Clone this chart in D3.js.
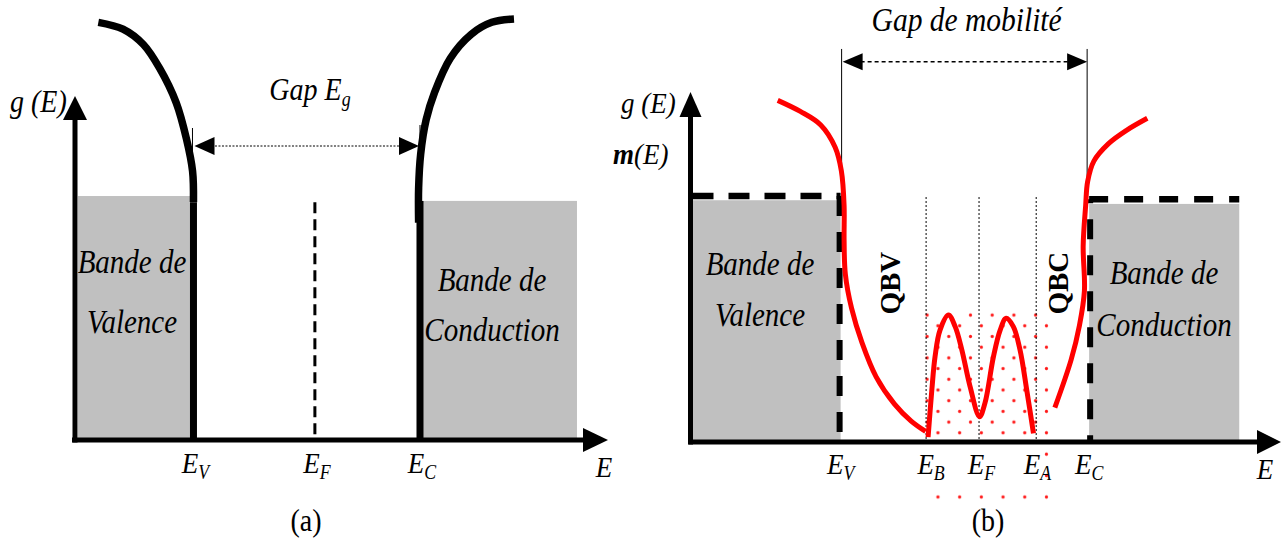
<!DOCTYPE html>
<html><head><meta charset="utf-8">
<script src="https://cdn.jsdelivr.net/npm/d3@7"></script>
<style>html,body{margin:0;padding:0;background:#fff}</style>
</head><body>
<script>
// ---------- DATA (energies in units of the gap: E_V = 0, E_C = 1 ; DOS in units of band-edge level) ----------
// Panel (a)
const aAxisE = [-0.523, 1.830];
const aAxisG = [0, 1.41];
const aBandE = [[-0.51, 0], [1, 1.693]];
const aBandG = [1.0, 0.98];
const aEdgeE = [0, 1];
const aEdgeTop = [0.975, 0.98];
const aValenceDOS = [[-0.420,1.712],[-0.311,1.684],[-0.221,1.621],[-0.149,1.523],[-0.076,1.382],[-0.031,1.234],[-0.004,1.102],[0.0,0.975]];
const aConductionDOS = [[1.415,1.726],[1.317,1.712],[1.226,1.663],[1.134,1.565],[1.064,1.424],[1.027,1.312],[1.003,1.172],[0.994,1.033],[0.994,0.891]];
const aFermiE = 0.536, aFermiTop = 0.975;
const aGapG = 1.205;
const aLevelE = [0, 0.536, 1];
const aLevelSub = ["V", "F", "C"];
const aBandText = [["Bande de","Valence"],["Bande de","Conduction"]];

// Panel (b)
const bAxisE = [-0.604, 1.772];
const bAxisG = [0, 1.423];
const bBandE = [[-0.596, 0], [1, 1.604]];
const bBandG = [0.983, 0.968];
const bEdgeG = [1.0, 0.987];
const bValenceTail = [[-0.253,1.389],[-0.162,1.344],[-0.080,1.289],[-0.022,1.198],[0.003,1.102],[0.014,0.961],[0.014,0.822],[0.019,0.683],[0.044,0.544],[0.086,0.404],[0.143,0.265],[0.217,0.154],[0.284,0.085],[0.342,0.043]];
const bConductionTail = [[0.862,0.140],[0.928,0.336],[0.961,0.474],[0.981,0.614],[0.976,0.797],[0.986,0.961],[0.994,1.059],[1.019,1.142],[1.077,1.212],[1.152,1.268],[1.234,1.316]];
const bDefectDOS = [[0.352,0.020],[0.367,0.211],[0.380,0.347],[0.400,0.455],[0.434,0.516],[0.461,0.469],[0.488,0.374],[0.521,0.225],[0.559,0.103],[0.581,0.159],[0.615,0.347],[0.642,0.455],[0.666,0.503],[0.695,0.469],[0.722,0.374],[0.749,0.211],[0.776,0.035]];
const bLevelE = [0, 0.364, 0.567, 0.792, 1];
const bLevelSub = ["V", "B", "F", "A", "C"];
const bInnerLevelE = [0.344, 0.557, 0.787];
const bInnerTop = 0.996;
const bGapG = 1.546, bMobilityTop = 1.598;
const bDotRegionE = [0.324, 0.838], bDotRegionG = [-0.244, 0.537];
const bBandText = [["Bande de","Valence"],["Bande de","Conduction"]];

// ---------- SETUP ----------
const FONT = "'Liberation Serif','Times New Roman',Times,serif";
const SY = 1.13; // vertical stretch of the original lettering
const svg = d3.select("body").append("svg").attr("width",1284).attr("height",540)
  .style("font-family", FONT);

const xA = d3.scaleLinear().domain(aAxisE).range([75, 608]);
const yA = d3.scaleLinear().domain(aAxisG).range([440, 96]);
const xB = d3.scaleLinear().domain(bAxisE).range([690.5, 1281]);
const yB = d3.scaleLinear().domain(bAxisG).range([442, 92]);

function tri(g, tx, ty, dx, dy, len, hw, fill="#000") {
  const bx = tx - dx*len, by = ty - dy*len, px = -dy, py = dx;
  g.append("path").attr("d",`M${tx},${ty}L${bx+px*hw},${by+py*hw}L${bx-px*hw},${by-py*hw}Z`).attr("fill",fill);
}
function txt(g, x, y, size, anchor="middle", italic=true) {
  return g.append("text").attr("transform",`translate(${x},${y}) scale(1,${SY})`)
    .attr("text-anchor",anchor).attr("font-size",size).attr("font-style", italic?"italic":"normal");
}
function levelLabel(g, x, y, sub, size=27) {
  const t = txt(g, x, y, size);
  t.append("tspan").text("E");
  t.append("tspan").attr("font-size",size*0.66).attr("dy",5).text(sub);
}

// ---------- PANEL (a) ----------
const ga = svg.append("g");
aBandE.forEach((be,i)=>{
  ga.append("rect").attr("x",xA(be[0])).attr("y",yA(aBandG[i]))
    .attr("width",xA(be[1])-xA(be[0])).attr("height",yA(0)-yA(aBandG[i])).attr("fill","#c0c0c0");
});
ga.append("line").attr("x1",xA(aFermiE)).attr("x2",xA(aFermiE)).attr("y1",yA(aFermiTop)).attr("y2",yA(0))
  .attr("stroke","#000").attr("stroke-width",3).attr("stroke-dasharray","11,6");
aEdgeE.forEach((e,i)=>{
  ga.append("line").attr("x1",xA(e)).attr("x2",xA(e)).attr("y1",yA(aEdgeTop[i])).attr("y2",yA(0))
    .attr("stroke","#000").attr("stroke-width",7);
});
const lineA = d3.line().x(d=>xA(d[0])).y(d=>yA(d[1])).curve(d3.curveCatmullRom.alpha(0.5));
[aValenceDOS, aConductionDOS].forEach(c=>{
  ga.append("path").attr("d",lineA(c)).attr("fill","none").attr("stroke","#000").attr("stroke-width",7.5);
});
ga.append("line").attr("x1",xA(0)+18).attr("x2",xA(1)-18).attr("y1",yA(aGapG)).attr("y2",yA(aGapG))
  .attr("stroke","#000").attr("stroke-width",1).attr("stroke-dasharray","2,1.5");
tri(ga, xA(0)+1, yA(aGapG), -1, 0, 20, 9);
tri(ga, xA(1)-1, yA(aGapG), 1, 0, 20, 9);
ga.append("line").attr("x1",xA(0)-1).attr("x2",xA(0)-1).attr("y1",yA(aGapG)-18).attr("y2",yA(aGapG)+18).attr("stroke","#000").attr("stroke-width",1);
ga.append("line").attr("x1",xA(1)).attr("x2",xA(1)).attr("y1",yA(aGapG)-21).attr("y2",yA(aGapG)+5).attr("stroke","#000").attr("stroke-width",1);
ga.append("line").attr("x1",xA(aAxisE[0])).attr("x2",xA(aAxisE[0])).attr("y1",yA(0)+2.5).attr("y2",yA(aAxisG[1])+22)
  .attr("stroke","#000").attr("stroke-width",5);
tri(ga, xA(aAxisE[0]), yA(aAxisG[1]), 0, -1, 24, 12);
ga.append("line").attr("x1",xA(aAxisE[0])-3).attr("x2",xA(aAxisE[1])-22).attr("y1",yA(0)).attr("y2",yA(0))
  .attr("stroke","#000").attr("stroke-width",5);
tri(ga, xA(aAxisE[1]), yA(0), 1, 0, 25, 12);
aLevelE.forEach((e,i)=>levelLabel(ga, xA(e)+2, 473, aLevelSub[i]));
txt(ga, 604, 477, 27).text("E");
txt(ga, 10, 112, 28, "start").text("g (E)");
{
  const t = txt(ga, 310, 100, 28);
  t.append("tspan").text("Gap E");
  t.append("tspan").attr("font-size",18).attr("dy",5).text("g");
}
const aTextPos = [[132, 273, 333],[492, 291, 341]];
aBandText.forEach((lines,i)=>{
  lines.forEach((s,j)=>{ txt(ga, aTextPos[i][0], aTextPos[i][1+j], 29).text(s); });
});
txt(ga, 306, 531, 28, "middle", false).text("(a)");

// ---------- PANEL (b) ----------
const gb = svg.append("g");
bBandE.forEach((be,i)=>{
  gb.append("rect").attr("x",xB(be[0])).attr("y",yB(bBandG[i]))
    .attr("width",xB(be[1])-xB(be[0])).attr("height",yB(0)-yB(bBandG[i])).attr("fill","#c0c0c0");
});
const defs = svg.append("defs");
const px0 = xB(bInnerLevelE[0]) + 1, py0 = yB(0.516);
const pat = defs.append("pattern").attr("id","dots").attr("patternUnits","userSpaceOnUse")
  .attr("width",21.7).attr("height",21.4).attr("x",px0-5.4).attr("y",py0-5.35);
pat.append("circle").attr("cx",5.4).attr("cy",5.35).attr("r",1.6).attr("fill","#ff1a1a");
pat.append("circle").attr("cx",16.25).attr("cy",16.05).attr("r",1.6).attr("fill","#ff1a1a");
gb.append("rect").attr("x",xB(bDotRegionE[0])).attr("y",yB(bDotRegionG[1]))
  .attr("width",xB(bDotRegionE[1])-xB(bDotRegionE[0])).attr("height",yB(bDotRegionG[0])-yB(bDotRegionG[1]))
  .attr("fill","url(#dots)");
gb.append("rect").attr("x",xB(bDotRegionE[0])).attr("y",yB(-0.008))
  .attr("width",xB(0.807)-xB(bDotRegionE[0])).attr("height",yB(-0.199)-yB(-0.008)).attr("fill","#fff");
bInnerLevelE.forEach(e=>{
  gb.append("line").attr("x1",xB(e)).attr("x2",xB(e)).attr("y1",yB(bInnerTop)).attr("y2",yB(0))
    .attr("stroke","#000").attr("stroke-width",1).attr("stroke-dasharray","2,2");
});
gb.append("line").attr("x1",xB(bAxisE[0])).attr("x2",xB(0)).attr("y1",yB(bEdgeG[0])).attr("y2",yB(bEdgeG[0]))
  .attr("stroke","#000").attr("stroke-width",6.5).attr("stroke-dasharray","21,15").attr("stroke-dashoffset",-2);
gb.append("line").attr("x1",xB(0)-1).attr("x2",xB(0)-1).attr("y1",yB(bEdgeG[0])).attr("y2",yB(0))
  .attr("stroke","#000").attr("stroke-width",6).attr("stroke-dasharray","20,16");
gb.append("line").attr("x1",xB(1)).attr("x2",xB(1.604)).attr("y1",yB(bEdgeG[1])).attr("y2",yB(bEdgeG[1]))
  .attr("stroke","#000").attr("stroke-width",6.5).attr("stroke-dasharray","19,16");
gb.append("line").attr("x1",xB(1)+1).attr("x2",xB(1)+1).attr("y1",yB(bEdgeG[1])).attr("y2",yB(0))
  .attr("stroke","#000").attr("stroke-width",6).attr("stroke-dasharray","20,16").attr("stroke-dashoffset",-20);
[0,1].forEach(e=>{
  gb.append("line").attr("x1",xB(e)+ (e?-2:1)).attr("x2",xB(e)+(e?-2:1)).attr("y1",yB(bMobilityTop)).attr("y2",yB(bEdgeG[e]))
    .attr("stroke","#000").attr("stroke-width",1);
});
gb.append("line").attr("x1",xB(0)+20).attr("x2",xB(1)-20).attr("y1",yB(bGapG)).attr("y2",yB(bGapG))
  .attr("stroke","#000").attr("stroke-width",1.5).attr("stroke-dasharray","4,3");
tri(gb, xB(0)+2, yB(bGapG), -1, 0, 20, 8.5);
tri(gb, xB(1)-2, yB(bGapG), 1, 0, 20, 8.5);
const lineB = d3.line().x(d=>xB(d[0])).y(d=>yB(d[1])).curve(d3.curveCatmullRom.alpha(0.5));
[bValenceTail, bConductionTail, bDefectDOS].forEach(c=>{
  gb.append("path").attr("d",lineB(c)).attr("fill","none").attr("stroke","#ff0000").attr("stroke-width",5)
    .attr("stroke-linejoin","round");
});
gb.append("line").attr("x1",xB(bAxisE[0])).attr("x2",xB(bAxisE[0])).attr("y1",yB(0)+2.5).attr("y2",yB(bAxisG[1])+22)
  .attr("stroke","#000").attr("stroke-width",5);
tri(gb, xB(bAxisE[0]), yB(bAxisG[1]), 0, -1, 25, 11);
gb.append("line").attr("x1",xB(bAxisE[0])-2).attr("x2",xB(bAxisE[1])-22).attr("y1",yB(0)).attr("y2",yB(0))
  .attr("stroke","#000").attr("stroke-width",5);
tri(gb, xB(bAxisE[1]), yB(0), 1, 0, 24, 12);
bLevelE.forEach((e,i)=>levelLabel(gb, xB(e), 474, bLevelSub[i]));
txt(gb, 1265, 479, 27).text("E");
txt(gb, 621, 113, 27, "start").text("g (E)");
{
  const t = txt(gb, 613, 164, 27, "start");
  t.append("tspan").attr("font-weight","bold").text("m");
  t.append("tspan").text("(E)");
}
txt(gb, xB(0.507), 31, 29.5).text("Gap de mobilité");
[["QBV",0.199],["QBC",0.875]].forEach(([s,e])=>{
  gb.append("text").attr("transform",`translate(${xB(e)+10},${yB(0.646)}) rotate(-90)`)
    .attr("text-anchor","middle").attr("font-weight","bold").attr("font-size",29).text(s);
});
const bTextPos = [[760, 275, 326],[1164, 284, 336]];
bBandText.forEach((lines,i)=>{
  lines.forEach((s,j)=>{ txt(gb, bTextPos[i][0], bTextPos[i][1+j], 29).text(s); });
});
txt(gb, 988, 531, 28, "middle", false).text("(b)");
</script>
</body></html>
